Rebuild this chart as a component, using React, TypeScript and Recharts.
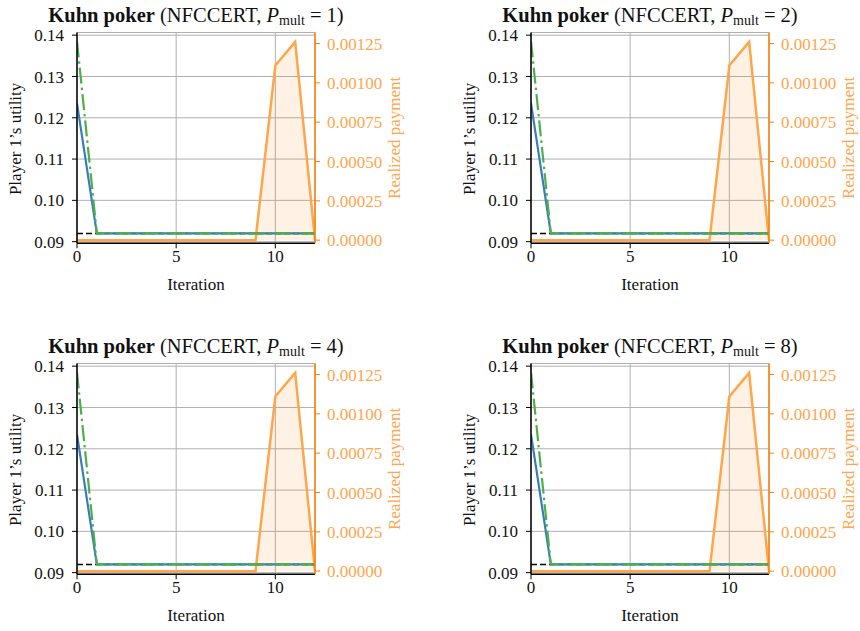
import React from 'react';
import { ComposedChart, Line, Area, XAxis, YAxis, CartesianGrid, ReferenceLine } from 'recharts';

// ---- data ----
const iterations = [0, 1, 2, 3, 4, 5, 6, 7, 8, 9, 10, 11, 12];
const blueUtility = [0.1235, 0.092, 0.092, 0.092, 0.092, 0.092, 0.092, 0.092, 0.092, 0.092, 0.092, 0.092, 0.092];
const greenUtility = [0.1385, 0.092, 0.092, 0.092, 0.092, 0.092, 0.092, 0.092, 0.092, 0.092, 0.092, 0.092, 0.092];
const realizedPayment = [0, 0, 0, 0, 0, 0, 0, 0, 0, 0, 0.00111, 0.00126, 0];
const equilibriumUtility = 0.092;
const pMultValues = [1, 2, 4, 8];
const xTicks = [0, 5, 10];
const leftTicks = [0.09, 0.1, 0.11, 0.12, 0.13, 0.14];
const rightTicks = [0, 0.00025, 0.0005, 0.00075, 0.001, 0.00125];

const FONT = "'Liberation Serif', 'Times New Roman', serif";
const BLUE = '#377eb8';
const GREEN = '#4daf4a';
const ORANGE = '#ff7f00';
const ORANGE_LIGHT = '#ffa54c';
const TEXT = '#111';

const data = iterations.map((it, i) => ({
  iteration: it,
  blue: blueUtility[i],
  green: greenUtility[i],
  payment: realizedPayment[i],
}));

const Panel = ({ pmult, left, top }: { pmult: number; left: number; top: number }) => {
  return (
    <div style={{ position: 'absolute', left, top, width: 430, height: 300 }}>
      <div
        style={{
          position: 'absolute',
          left: 27,
          width: 338,
          top: 4,
          textAlign: 'center',
          fontSize: 20.5,
          lineHeight: '22px',
          whiteSpace: 'nowrap',
          fontFamily: FONT,
          color: TEXT,
        }}
      >
        <b>Kuhn poker</b> (NFCCERT, <i>P</i>
        <span style={{ fontSize: 14, position: 'relative', top: 3 }}>mult</span> = {pmult})
      </div>
      <ComposedChart
        width={430}
        height={300}
        data={data}
        margin={{ top: 32.5, left: 17, right: 35, bottom: 6.7 }}
        style={{ position: 'absolute', left: 0, top: 0 }}
      >
        <CartesianGrid xAxisId="bottom" yAxisId="left" stroke="#b0b0b0" strokeWidth={1} />
        <XAxis
          xAxisId="bottom"
          dataKey="iteration"
          type="number"
          domain={[0, 12]}
          ticks={xTicks}
          allowDataOverflow
          height={50}
          tickSize={5}
          tickMargin={2}
          stroke="#000"
          axisLine={{ stroke: '#000', strokeWidth: 1.5 }}
          tickLine={{ stroke: '#000', strokeWidth: 1 }}
          tick={{ fill: TEXT, fontSize: 17, fontFamily: FONT }}
          label={{
            content: (p: any) => {
              const vb = p.viewBox || {};
              return (
                <text x={vb.x + vb.width / 2} y={290} textAnchor="middle" fontSize={17} fontFamily={FONT} fill={TEXT}>
                  Iteration
                </text>
              );
            },
          }}
        />
        <XAxis
          xAxisId="top"
          dataKey="iteration"
          type="number"
          domain={[0, 12]}
          orientation="top"
          height={0}
          tick={false}
          tickLine={false}
          axisLine={{ stroke: '#000', strokeWidth: 1.5 }}
        />
        <YAxis
          yAxisId="left"
          type="number"
          domain={[0.0896, 0.14065]}
          ticks={leftTicks}
          allowDataOverflow
          width={60}
          tickSize={5}
          tickMargin={8}
          axisLine={{ stroke: '#000', strokeWidth: 1.5 }}
          tickLine={{ stroke: '#000', strokeWidth: 1 }}
          tick={{ fill: TEXT, fontSize: 17, fontFamily: FONT }}
          tickFormatter={(v: number) => v.toFixed(2)}
          label={{
            content: (p: any) => {
              const vb = p.viewBox || {};
              const cy = vb.y + vb.height / 2 + 1;
              return (
                <text
                  x={21.5}
                  y={cy}
                  transform={`rotate(-90, 21.5, ${cy})`}
                  textAnchor="middle"
                  fontSize={17}
                  fontFamily={FONT}
                  fill={TEXT}
                >
                  Player 1’s utility
                </text>
              );
            },
          }}
        />
        <YAxis
          yAxisId="right"
          orientation="right"
          type="number"
          domain={[-0.00002, 0.00132]}
          ticks={rightTicks}
          allowDataOverflow
          width={80}
          tickSize={5}
          tickMargin={7}
          axisLine={{ stroke: ORANGE, strokeWidth: 1.5 }}
          tickLine={{ stroke: ORANGE, strokeWidth: 1 }}
          tick={{ fill: ORANGE_LIGHT, fontSize: 17, fontFamily: FONT }}
          tickFormatter={(v: number) => v.toFixed(5)}
          label={{
            content: (p: any) => {
              const vb = p.viewBox || {};
              const cy = vb.y + vb.height / 2;
              return (
                <text
                  x={400}
                  y={cy}
                  transform={`rotate(-90, 400, ${cy})`}
                  textAnchor="middle"
                  fontSize={17}
                  fontFamily={FONT}
                  fill={ORANGE_LIGHT}
                >
                  Realized payment
                </text>
              );
            },
          }}
        />
        <ReferenceLine
          xAxisId="bottom"
          yAxisId="left"
          y={equilibriumUtility}
          stroke="#000"
          strokeWidth={1.5}
          strokeDasharray="6 3"
        />
        <Line
          xAxisId="bottom"
          yAxisId="left"
          dataKey="blue"
          type="linear"
          stroke={BLUE}
          strokeWidth={2.2}
          dot={false}
          activeDot={false}
          isAnimationActive={false}
        />
        <Line
          xAxisId="bottom"
          yAxisId="left"
          dataKey="green"
          type="linear"
          stroke={GREEN}
          strokeWidth={2.2}
          strokeDasharray="16 4 2.5 4"
          dot={false}
          activeDot={false}
          isAnimationActive={false}
        />
        <Area
          xAxisId="bottom"
          yAxisId="right"
          dataKey="payment"
          type="linear"
          stroke={ORANGE_LIGHT}
          strokeWidth={2.5}
          fill={ORANGE}
          fillOpacity={0.1}
          dot={false}
          activeDot={false}
          isAnimationActive={false}
        />
      </ComposedChart>
    </div>
  );
};

export default function App() {
  const positions = [
    { left: 0, top: 0 },
    { left: 454, top: 0 },
    { left: 0, top: 331 },
    { left: 454, top: 331 },
  ];
  return (
    <div style={{ position: 'absolute', left: 0, top: 0, width: 860, height: 631, background: '#fff', overflow: 'hidden' }}>
      {pMultValues.map((pm, i) => (
        <Panel key={pm} pmult={pm} left={positions[i].left} top={positions[i].top} />
      ))}
    </div>
  );
}
